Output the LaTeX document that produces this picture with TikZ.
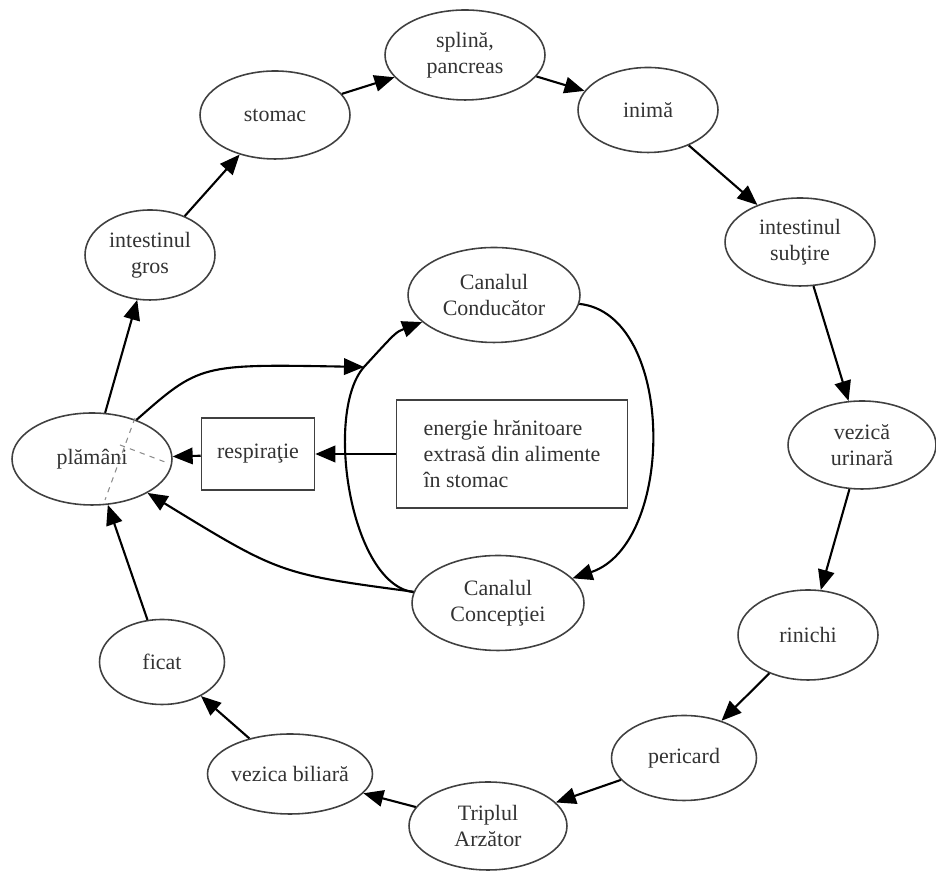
\documentclass[tikz,border=0pt]{standalone}
\usepackage{fontspec}
\setmainfont{Liberation Serif}
\usetikzlibrary{shapes.geometric,arrows.meta}
\tikzset{
  organ/.style={draw=black!75, line width=0.9pt, ellipse, inner sep=0pt, align=center,
    text=black!80, font=\fontsize{12.5}{15}\selectfont},
  box/.style={draw=black!75, line width=0.9pt, rectangle, align=left,
    text=black!80, font=\fontsize{12.5}{15}\selectfont},
  arr/.style={-{Triangle[length=4mm,width=3.3mm]}, line width=1.2pt, black},
}
\begin{document}
\begin{tikzpicture}[x=0.02cm,y=0.02cm]
			\useasboundingbox (0,0) rectangle (936,874);
			% ring of organs
			\node[organ, minimum width=3.2cm,  minimum height=1.8cm]  (splina)   at (465,819) {splină,\\pancreas};
			\node[organ, minimum width=3.0cm,  minimum height=1.76cm] (stomac)   at (275,759) {stomac};
			\node[organ, minimum width=2.8cm,  minimum height=1.7cm]  (inima)    at (648,764) {inimă};
			\node[organ, minimum width=3.0cm,  minimum height=1.76cm] (intsub)   at (800,632) {intestinul\\subţire};
			\node[organ, minimum width=2.6cm,  minimum height=1.8cm]  (intgros)  at (150,619) {intestinul\\gros};
			\node[organ, minimum width=2.96cm, minimum height=1.76cm] (vezica)   at (862,429) {vezică\\urinară};
			\node[organ, minimum width=2.8cm,  minimum height=1.8cm]  (rinichi)  at (808,239) {rinichi};
			\node[organ, minimum width=2.9cm,  minimum height=1.7cm]  (pericard) at (684,116) {pericard};
			\node[organ, minimum width=3.16cm, minimum height=1.76cm] (triplul)  at (488,48)  {Triplul\\Arzător};
			\node[organ, minimum width=3.3cm,  minimum height=1.6cm, inner xsep=-4mm] (vezbil) at (290,100) {vezica biliară};
			\node[organ, minimum width=2.5cm,  minimum height=1.7cm]  (ficat)    at (162,212) {ficat};
			\node[organ, minimum width=3.2cm,  minimum height=1.84cm] (plam)     at (92,415)  {plămâni};
			% the two vessels
			\node[organ, minimum width=3.44cm, minimum height=1.9cm]  (cond)     at (494,579) {Canalul\\Conducător};
			\node[organ, minimum width=3.44cm, minimum height=1.9cm]  (conc)     at (498,271) {Canalul\\Concepţiei};
			% boxes
			\node[box, minimum width=2.26cm, minimum height=1.44cm] (resp) at (258,420) {respiraţie};
			\node[box, minimum width=4.62cm, minimum height=2.16cm] (energ) at (512,420) {energie hrănitoare\\extrasă din alimente\\în stomac};
			\coordinate (j) at (364,507);
			%
			\def\ring {plam/intgros, intgros/stomac, stomac/splina, splina/inima, inima/intsub,
      intsub/vezica, vezica/rinichi, rinichi/pericard, pericard/triplul,
      triplul/vezbil, vezbil/ficat, ficat/plam}  % list elements
			\foreach \u/\v in \ring
			{	\draw[arr] (\u) -- (\v);
			}
			
			\draw[arr] (energ) -- (resp);
			\draw[arr] (resp) -- (plam);
			\draw[arr] (cond) .. controls (676,560) and (676,330) .. (conc);
			\draw[arr] (conc) .. controls (350,290) and (324,462) .. (j) .. controls (396,542) .. (cond);
			\draw[arr] (plam) .. controls (200,510) .. (j);
			\draw[arr] (conc) .. controls (280,300) .. (plam);
%      dashed marks inside plamani
			\draw[black!45, dashed, line width=0.6pt] (135,456) -- (105,374);
			\draw[black!45, dashed, line width=0.6pt] (120,429) -- (165,412);
		\end{tikzpicture}
\end{document}
